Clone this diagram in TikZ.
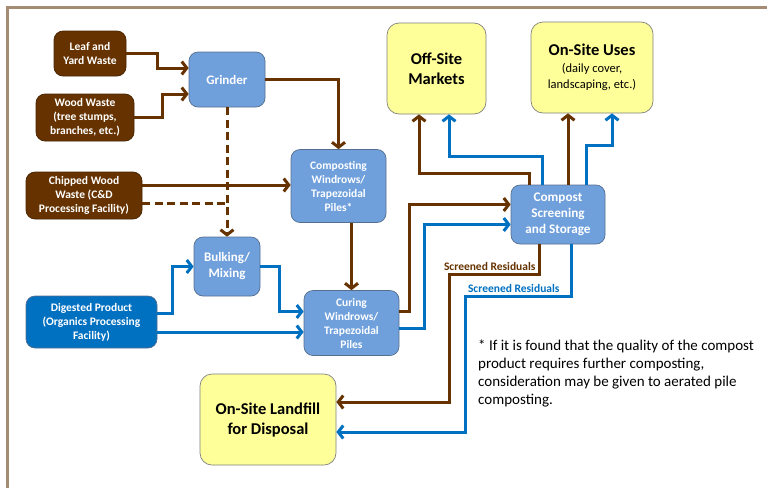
\documentclass[tikz,border=0pt]{standalone}
\usepackage{fontspec}
\setmainfont{Carlito}
\usepackage{tikz}
\usetikzlibrary{arrows.meta,calc}
\definecolor{woodbrown}{HTML}{663300}
\definecolor{flowblue}{HTML}{0070C0}
\definecolor{boxblue}{HTML}{6FA0DC}
\definecolor{boxedge}{HTML}{566F8E}
\definecolor{prodyellow}{HTML}{FFFF99}
\definecolor{framebrown}{HTML}{A58B74}
\newcommand{\smallnote}{\fontsize{12.5}{15}\selectfont\mdseries}

\begin{document}
\begin{tikzpicture}[x=1pt,y=1pt,
    box/.style={rounded corners=9pt,line width=0.7pt,align=center,inner sep=2pt},
    srcbox/.style={box,fill=woodbrown,draw=woodbrown!70!black,text=white,font=\fontsize{11.5}{14}\selectfont\bfseries},
    procbox/.style={box,fill=boxblue,draw=boxedge,text=white,font=\fontsize{11.5}{14}\selectfont\bfseries},
    digbox/.style={box,fill=flowblue,draw=boxedge,text=white,font=\fontsize{11.5}{14}\selectfont\bfseries},
    prodbox/.style={box,rounded corners=12pt,fill=prodyellow,draw=gray,text=black,font=\fontsize{16.5}{20}\selectfont\bfseries},
    brownflow/.style={draw=woodbrown,line width=3pt,-{Straight Barb[length=5pt,width=13pt]}},
    blueflow/.style={draw=flowblue,line width=3pt,-{Straight Barb[length=5pt,width=13pt]}},
    residlabel/.style={font=\fontsize{11.5}{12}\selectfont\bfseries,inner sep=1pt,anchor=south east}]
    \useasboundingbox (0,0) rectangle (767,-488);
    % frame
    \draw[framebrown,line width=3pt] (7,-488) -- (7,-7) -- (767,-7);
    % sources
    \node[srcbox,minimum width=72,minimum height=45] (leaf) at (90,-53.5) {Leaf and\\Yard Waste};
    \node[srcbox,minimum width=98,minimum height=47] (wood) at (85,-117.5) {Wood Waste\\(tree stumps,\\branches, etc.)};
    \node[srcbox,minimum width=116,minimum height=47] (chipped) at (84,-195.5) {Chipped Wood\\Waste (C\&D\\Processing Facility)};
    \node[digbox,minimum width=131,minimum height=52] (digested) at (91.5,-322) {Digested Product\\(Organics Processing\\Facility)};
    % process steps
    \node[procbox,font=\fontsize{13}{16}\selectfont\bfseries,minimum width=76,minimum height=55] (grinder) at (227,-79.5) {Grinder};
    \node[procbox,minimum width=95,minimum height=73] (compost) at (338.5,-186) {Composting\\Windrows/\\Trapezoidal\\Piles*};
    \node[procbox,font=\fontsize{13}{16}\selectfont\bfseries,minimum width=66,minimum height=59] (bulking) at (227,-266.5) {Bulking/\\Mixing};
    \node[procbox,minimum width=95,minimum height=65] (curing) at (351.5,-323) {Curing\\Windrows/\\Trapezoidal\\Piles};
    \node[procbox,font=\fontsize{13.2}{16}\selectfont\bfseries,minimum width=94,minimum height=59] (screening) at (558,-214.5) {Compost\\Screening\\and Storage};
    % products
    \node[prodbox,minimum width=99,minimum height=91] (offsite) at (436.5,-68.5) {Off-Site\\Markets};
    \node[prodbox,minimum width=122,minimum height=91] (onsite) at (592,-67.5) {On-Site Uses\\[-3pt]\smallnote (daily cover,\\[-4pt]\smallnote landscaping, etc.)};
    \node[prodbox,minimum width=136,minimum height=91] (landfill) at (268,-419.5) {On-Site Landfill\\for Disposal};
    % note
    \node[anchor=north west,inner sep=0pt,align=left,font=\fontsize{15}{18}\selectfont] (note) at (478,-340)
      {* If it is found that the quality of the compost\\product requires further composting,\\consideration may be given to aerated pile\\composting.};

    % feedstock flows
    \draw[brownflow] (leaf.east) -- ++(31,0) |- ([yshift=11.5pt]grinder.west);
    \draw[brownflow] (wood.east) -- ++(28,0) |- ([yshift=-14.5pt]grinder.west);
    \draw[brownflow] (grinder.east) -| (compost.north);
    \coordinate (chipA) at ([yshift=10.5pt]chipped.east);
    \coordinate (chipB) at ([yshift=-7.5pt]chipped.east);
    \draw[brownflow] (chipA) -- (chipA -| compost.west);
    \draw[woodbrown,line width=3pt,dash pattern=on 8pt off 4.5pt] (chipB) -- (chipB -| grinder.south);
    \draw[brownflow,dash pattern=on 8pt off 4.5pt] (grinder.south) -- (bulking.north);
    \draw[brownflow] (curing.north |- compost.south) -- (curing.north);
    \draw[blueflow] ([yshift=9pt]digested.east) -- ++(15,0) |- (bulking.west);
    \draw[blueflow] (bulking.east) -- ++(19,0) |- ([yshift=11.5pt]curing.west);
    \coordinate (digB) at ([yshift=-10pt]digested.east);
    \draw[blueflow] (digB) -- (digB -| curing.west);
    % to screening
    \draw[brownflow] ([yshift=11.5pt]curing.east) -- ++(10,0) |- ([yshift=10pt]screening.west);
    \draw[blueflow] ([yshift=-5.5pt]curing.east) -- ++(25,0) |- ([yshift=-10pt]screening.west);
    % products
    \draw[brownflow] ([xshift=-29pt]screening.north) -- ++(0,11) -| ([xshift=-17.5pt]offsite.south);
    \draw[blueflow] ([xshift=-16pt]screening.north) -- ++(0,28) -| ([xshift=12.5pt]offsite.south);
    \coordinate (scrC) at ([xshift=10pt]screening.north);
    \draw[brownflow] (scrC) -- (scrC |- onsite.south);
    \draw[blueflow] ([xshift=28pt]screening.north) -- ++(0,39) -| ([xshift=20pt]onsite.south);
    % residuals
    \draw[brownflow] ([xshift=-19pt]screening.south) -- ++(0,-30)
      -- ++(-90,0) node[pos=0,residlabel,text=woodbrown,xshift=-1pt,yshift=1pt] {Screened Residuals}
      |- ([yshift=17.5pt]landfill.east);
    \draw[blueflow] ([xshift=13pt]screening.south) -- ++(0,-52)
      -- ++(-106,0) node[pos=0,residlabel,text=flowblue,xshift=-9pt,yshift=1pt] {Screened Residuals}
      |- ([yshift=-12.5pt]landfill.east);
\end{tikzpicture}
\end{document}
